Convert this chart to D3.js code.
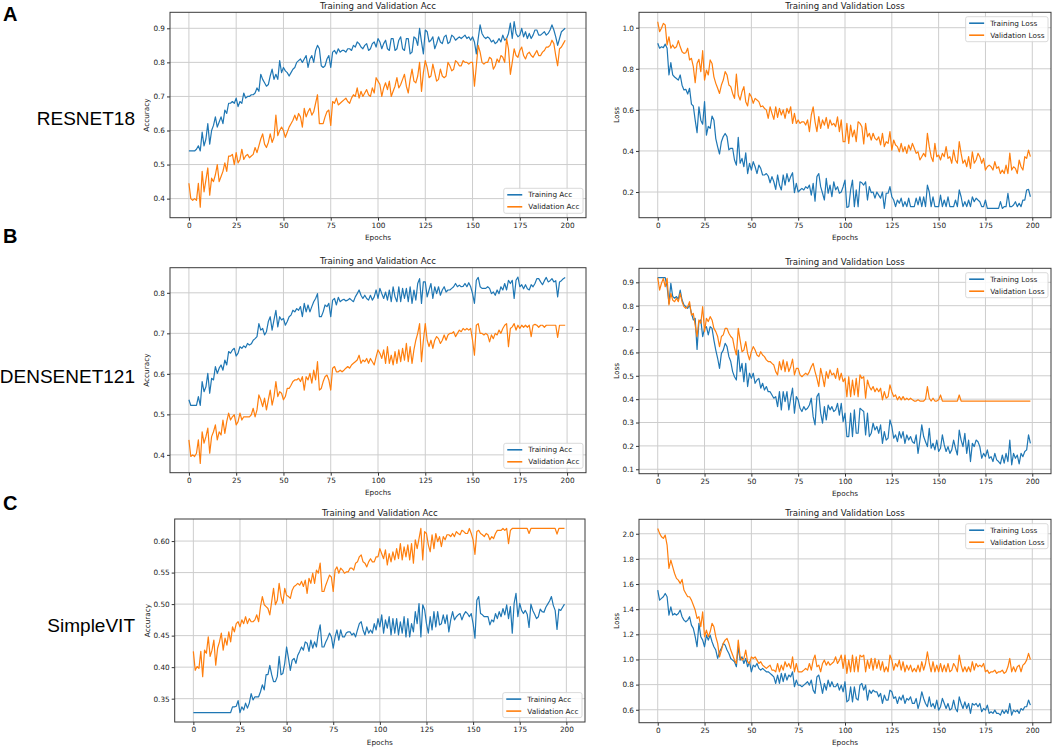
<!DOCTYPE html>
<html>
<head>
<meta charset="utf-8">
<script src="https://cdn.jsdelivr.net/npm/d3@7"></script>
<style>
  body { margin: 0; background: #fff; }
  text { font-family: "DejaVu Sans", sans-serif; fill: #222; }
</style>
</head>
<body>
<svg id="fig" width="1056" height="749"></svg>
<script>
// one value per epoch
var epochs = d3.range(0, 200);

var xTicks = [0, 25, 50, 75, 100, 125, 150, 175, 200];

// RESNET18
var resnetTrainAcc = [
  .54,.54,.54,.54,.545,.555,.54,.595,.555,.575,
  .62,.56,.60,.615,.64,.61,.625,.64,.62,.66,
  .65,.68,.68,.685,.68,.695,.67,.685,.68,.71,
  .695,.70,.70,.705,.705,.71,.725,.715,.765,.75,
  .74,.73,.735,.76,.78,.75,.765,.75,.805,.77,
  .785,.775,.77,.76,.77,.78,.785,.80,.805,.81,
  .80,.81,.82,.785,.81,.82,.80,.835,.85,.84,
  .79,.785,.79,.81,.82,.785,.83,.835,.825,.84,
  .83,.835,.835,.83,.84,.84,.835,.85,.845,.86,
  .855,.845,.84,.85,.855,.835,.84,.855,.86,.845,
  .87,.86,.84,.855,.865,.84,.835,.87,.87,.835,
  .84,.865,.875,.84,.835,.87,.87,.825,.83,.875,
  .87,.85,.90,.86,.825,.895,.89,.86,.865,.875,
  .84,.855,.875,.86,.855,.875,.88,.855,.86,.88,
  .875,.865,.87,.875,.87,.875,.88,.87,.875,.865,
  .875,.86,.825,.87,.91,.885,.875,.87,.875,.87,
  .86,.865,.855,.86,.87,.86,.88,.865,.87,.885,
  .915,.87,.92,.885,.875,.88,.90,.875,.89,.87,
  .885,.87,.88,.895,.895,.88,.88,.885,.89,.88,
  .885,.895,.91,.895,.875,.85,.87,.89,.895,.90];
var resnetValAcc = [
  .445,.40,.395,.40,.395,.445,.375,.48,.42,.455,
  .49,.41,.46,.45,.47,.50,.45,.465,.48,.505,
  .48,.525,.525,.53,.50,.535,.505,.515,.545,.515,
  .525,.53,.52,.525,.53,.55,.535,.555,.575,.59,
  .56,.55,.565,.59,.565,.58,.645,.585,.60,.61,
  .60,.58,.595,.61,.62,.63,.645,.63,.65,.64,
  .61,.665,.64,.655,.665,.645,.655,.68,.705,.62,
  .62,.62,.64,.655,.66,.615,.685,.68,.695,.675,
  .68,.685,.69,.695,.685,.68,.695,.705,.70,.725,
  .695,.715,.70,.71,.72,.705,.70,.725,.71,.755,
  .745,.735,.70,.725,.74,.72,.745,.70,.715,.73,
  .755,.725,.735,.75,.765,.73,.71,.75,.78,.745,
  .74,.76,.80,.715,.77,.805,.785,.755,.76,.795,
  .77,.745,.75,.78,.76,.755,.76,.80,.79,.775,
  .78,.805,.80,.79,.79,.805,.80,.80,.795,.80,
  .80,.73,.79,.85,.83,.80,.795,.80,.80,.815,
  .81,.78,.79,.81,.80,.82,.815,.80,.87,.84,
  .765,.80,.84,.82,.815,.835,.845,.82,.81,.825,
  .83,.82,.815,.825,.835,.82,.82,.83,.835,.845,
  .845,.85,.865,.855,.82,.79,.84,.845,.855,.865];
var resnetTrainLoss = [
  .924,.90,.907,.903,.92,.90,.77,.83,.77,.76,
  .753,.745,.77,.72,.697,.70,.677,.705,.628,.619,
  .55,.489,.615,.55,.53,.64,.477,.52,.51,.57,
  .55,.46,.42,.385,.445,.47,.485,.47,.405,.413,
  .413,.356,.331,.466,.34,.364,.323,.391,.29,.34,
  .307,.348,.323,.29,.331,.315,.283,.283,.29,.278,
  .245,.275,.25,.213,.283,.234,.21,.283,.234,.29,
  .25,.275,.294,.197,.242,.20,.21,.218,.21,.226,
  .218,.234,.185,.242,.155,.275,.29,.226,.194,.161,
  .267,.194,.234,.177,.25,.21,.226,.194,.20,.226,
  .258,.125,.129,.21,.258,.129,.21,.129,.25,.245,
  .234,.25,.161,.226,.197,.20,.17,.20,.185,.17,
  .20,.12,.194,.194,.226,.177,.161,.129,.161,.145,
  .17,.129,.153,.129,.17,.129,.129,.129,.17,.137,
  .177,.129,.177,.129,.234,.20,.129,.177,.129,.129,
  .129,.185,.129,.161,.129,.177,.129,.129,.129,.161,
  .129,.21,.177,.129,.153,.129,.161,.129,.177,.153,
  .17,.161,.153,.129,.129,.161,.12,.12,.12,.12,
  .12,.12,.12,.153,.12,.129,.129,.194,.129,.129,
  .137,.153,.129,.145,.129,.161,.161,.21,.213,.177];
var resnetValLoss = [
  1.029,.981,.997,1.021,1.013,.916,.956,.90,.916,.90,
  .907,.937,.907,.883,.875,.878,.90,.843,.851,.81,
  .732,.826,.846,.786,.888,.745,.794,.77,.843,.826,
  .761,.729,.705,.68,.721,.745,.786,.77,.721,.713,
  .68,.656,.774,.672,.648,.688,.713,.64,.619,.68,
  .664,.632,.656,.648,.64,.615,.619,.607,.60,.559,
  .615,.583,.554,.615,.563,.607,.575,.60,.559,.607,
  .583,.615,.534,.583,.534,.551,.534,.542,.542,.526,
  .551,.494,.575,.615,.542,.494,.567,.51,.551,.526,
  .563,.51,.551,.526,.534,.518,.566,.494,.551,.445,
  .445,.534,.437,.526,.469,.502,.445,.542,.534,.518,
  .434,.534,.469,.486,.453,.486,.461,.453,.469,.429,
  .486,.421,.445,.437,.494,.404,.453,.429,.421,.396,
  .437,.396,.421,.388,.429,.404,.437,.413,.388,.396,
  .356,.372,.388,.372,.486,.421,.372,.348,.437,.372,
  .38,.356,.388,.372,.421,.364,.372,.34,.404,.356,
  .34,.445,.388,.34,.356,.323,.372,.315,.396,.34,
  .356,.388,.372,.34,.364,.307,.323,.331,.323,.307,
  .348,.315,.323,.29,.307,.29,.331,.29,.39,.307,
  .323,.315,.29,.356,.323,.307,.372,.364,.404,.372];

// DENSENET121
var densenetTrainAcc = [
  .536,.522,.522,.522,.522,.544,.522,.581,.556,.568,
  .601,.552,.589,.585,.618,.601,.614,.622,.609,.634,
  .622,.655,.651,.659,.663,.644,.651,.667,.663,.669,
  .665,.675,.671,.674,.683,.687,.692,.724,.708,.712,
  .696,.704,.729,.741,.708,.733,.757,.716,.741,.733,
  .737,.72,.729,.741,.745,.757,.753,.761,.757,.766,
  .741,.774,.753,.77,.753,.766,.778,.786,.798,.741,
  .741,.753,.77,.766,.774,.741,.782,.786,.77,.789,
  .778,.782,.784,.78,.782,.786,.782,.778,.79,.798,
  .807,.794,.786,.794,.786,.782,.794,.782,.79,.807,
  .786,.811,.798,.786,.802,.782,.807,.778,.815,.79,
  .778,.815,.778,.811,.786,.811,.778,.815,.774,.807,
  .782,.823,.835,.774,.827,.827,.79,.807,.823,.786,
  .815,.798,.815,.794,.807,.815,.802,.807,.807,.811,
  .815,.823,.815,.819,.815,.816,.823,.815,.825,.815,
  .798,.774,.831,.838,.815,.811,.811,.811,.815,.811,
  .798,.802,.794,.807,.798,.815,.807,.823,.807,.831,
  .823,.831,.786,.831,.839,.815,.82,.81,.82,.81,
  .807,.82,.815,.823,.835,.835,.827,.82,.83,.838,
  .827,.83,.835,.827,.83,.79,.827,.83,.835,.838];
var densenetValAcc = [
  .437,.396,.40,.396,.404,.437,.379,.457,.429,.445,
  .466,.404,.445,.457,.474,.437,.457,.449,.486,.453,
  .482,.503,.486,.494,.499,.474,.482,.503,.486,.494,
  .494,.494,.494,.499,.515,.494,.511,.548,.536,.519,
  .54,.511,.536,.56,.523,.544,.581,.544,.556,.552,
  .536,.544,.564,.564,.572,.581,.585,.585,.589,.581,
  .593,.56,.593,.585,.601,.577,.609,.585,.63,.56,
  .564,.581,.593,.597,.585,.56,.614,.618,.605,.605,
  .609,.605,.609,.614,.618,.614,.622,.626,.63,.634,
  .646,.626,.634,.63,.638,.626,.638,.63,.622,.642,
  .659,.651,.638,.659,.626,.667,.626,.646,.622,.655,
  .626,.659,.63,.663,.634,.675,.63,.667,.626,.659,
  .683,.70,.724,.63,.683,.724,.683,.667,.683,.663,
  .683,.692,.687,.675,.683,.696,.683,.696,.70,.70,
  .704,.692,.70,.708,.704,.712,.708,.712,.708,.712,
  .683,.646,.72,.724,.70,.70,.696,.70,.696,.679,
  .696,.687,.70,.696,.708,.70,.712,.72,.724,.667,
  .712,.716,.724,.708,.72,.712,.72,.715,.72,.715,
  .72,.692,.72,.722,.72,.715,.72,.72,.715,.72,
  .72,.72,.72,.72,.72,.69,.72,.72,.72,.72];
var densenetTrainLoss = [
  .92,.92,.92,.92,.92,.881,.81,.896,.839,.832,
  .839,.828,.867,.824,.803,.796,.789,.803,.767,.739,
  .746,.613,.732,.739,.668,.703,.71,.675,.71,.703,
  .653,.61,.575,.532,.596,.61,.639,.625,.582,.561,
  .518,.496,.482,.61,.518,.553,.475,.553,.454,.511,
  .489,.511,.468,.482,.489,.447,.468,.439,.454,.432,
  .432,.418,.404,.411,.368,.432,.354,.432,.389,.432,
  .354,.404,.447,.34,.411,.397,.361,.347,.368,.354,
  .361,.375,.404,.325,.29,.411,.425,.34,.297,.368,
  .311,.375,.354,.368,.347,.354,.382,.332,.382,.304,
  .34,.24,.24,.34,.24,.354,.254,.254,.361,.354,
  .347,.247,.34,.24,.254,.297,.268,.283,.254,.29,
  .211,.261,.225,.233,.311,.283,.233,.247,.218,.261,
  .233,.261,.211,.247,.225,.24,.218,.211,.247,.168,
  .225,.29,.24,.218,.197,.275,.19,.211,.183,.225,
  .176,.19,.247,.204,.176,.197,.168,.183,.225,.19,
  .161,.268,.225,.197,.254,.168,.225,.133,.211,.197,
  .225,.218,.197,.147,.168,.154,.183,.147,.154,.133,
  .168,.14,.133,.123,.161,.126,.168,.133,.225,.119,
  .168,.147,.161,.123,.168,.154,.176,.183,.247,.211];
var densenetValLoss = [
  .92,.867,.896,.917,.881,.917,.803,.853,.824,.817,
  .832,.817,.853,.817,.796,.789,.796,.817,.76,.767,
  .717,.668,.739,.725,.796,.689,.746,.732,.753,.739,
  .703,.689,.668,.625,.668,.675,.703,.703,.682,.668,
  .66,.618,.589,.703,.653,.603,.61,.646,.596,.568,
  .603,.625,.61,.589,.582,.603,.589,.582,.568,.561,
  .561,.553,.546,.518,.504,.561,.525,.568,.518,.561,
  .518,.539,.571,.504,.532,.532,.504,.496,.504,.511,
  .504,.518,.539,.553,.518,.489,.454,.532,.496,.454,
  .518,.489,.525,.504,.511,.489,.532,.482,.511,.475,
  .489,.411,.496,.411,.482,.418,.489,.411,.504,.489,
  .496,.404,.482,.454,.439,.454,.432,.447,.432,.447,
  .397,.432,.404,.411,.461,.432,.411,.418,.397,.411,
  .397,.411,.397,.404,.397,.404,.397,.392,.392,.397,
  .392,.392,.392,.40,.454,.404,.392,.404,.392,.392,
  .397,.418,.392,.392,.392,.392,.392,.392,.392,.392,
  .392,.418,.392,.392,.392,.392,.392,.392,.392,.392,
  .392,.392,.392,.392,.392,.392,.392,.392,.392,.392,
  .392,.392,.392,.392,.392,.392,.392,.392,.392,.392,
  .392,.392,.392,.392,.392,.392,.392,.392,.392,.392];

// SimpleVIT
var vitTrainAcc = [
  .328,.328,.328,.328,.328,.328,.328,.328,.328,.328,
  .328,.328,.328,.328,.328,.328,.328,.328,.328,.328,
  .328,.337,.337,.338,.347,.328,.337,.332,.343,.335,
  .343,.358,.348,.353,.353,.353,.361,.372,.364,.388,
  .388,.403,.388,.377,.377,.385,.417,.388,.39,.406,
  .432,.414,.395,.411,.414,.406,.419,.425,.432,.427,
  .44,.438,.425,.443,.43,.44,.432,.454,.467,.432,
  .432,.44,.446,.454,.448,.43,.448,.459,.443,.459,
  .448,.448,.454,.456,.456,.451,.454,.448,.459,.469,
  .472,.459,.451,.464,.454,.459,.454,.469,.459,.477,
  .464,.483,.454,.475,.462,.48,.451,.477,.454,.477,
  .451,.472,.454,.48,.448,.477,.448,.469,.456,.488,
  .469,.501,.448,.499,.491,.469,.454,.48,.459,.488,
  .464,.488,.467,.469,.483,.469,.483,.456,.475,.488,
  .475,.48,.483,.485,.475,.483,.488,.485,.48,.485,
  .469,.446,.506,.512,.485,.483,.48,.48,.48,.467,
  .475,.472,.485,.477,.488,.48,.493,.483,.499,.477,
  .496,.454,.501,.517,.48,.501,.49,.485,.49,.484,
  .463,.50,.49,.484,.477,.48,.492,.488,.487,.495,
  .50,.505,.512,.498,.49,.46,.492,.49,.495,.50];
var vitValAcc = [
  .425,.395,.401,.398,.425,.385,.427,.422,.448,.417,
  .427,.443,.403,.43,.44,.454,.427,.446,.435,.456,
  .44,.464,.456,.469,.472,.464,.475,.469,.48,.469,
  .477,.472,.472,.475,.483,.472,.496,.512,.499,.496,
  .493,.483,.504,.525,.499,.506,.533,.512,.501,.525,
  .514,.512,.509,.522,.528,.53,.533,.53,.536,.528,
  .538,.517,.541,.533,.549,.533,.554,.549,.565,.52,
  .52,.53,.538,.546,.543,.52,.554,.559,.549,.557,
  .554,.549,.551,.551,.557,.557,.554,.565,.567,.575,
  .578,.567,.565,.559,.567,.572,.567,.567,.575,.575,
  .588,.58,.572,.586,.562,.58,.567,.583,.57,.588,
  .572,.596,.57,.591,.575,.594,.57,.596,.565,.602,
  .588,.604,.62,.57,.615,.612,.594,.583,.61,.588,
  .612,.599,.607,.591,.607,.602,.61,.61,.607,.612,
  .607,.615,.612,.61,.617,.615,.612,.612,.62,.612,
  .602,.579,.615,.617,.612,.61,.607,.612,.61,.602,
  .607,.604,.612,.617,.617,.617,.62,.617,.62,.596,
  .617,.62,.62,.62,.62,.62,.62,.62,.62,.62,
  .612,.62,.62,.62,.62,.62,.62,.62,.62,.62,
  .62,.62,.62,.62,.62,.611,.62,.62,.62,.62];
var vitTrainLoss = [
  1.552,1.472,1.486,1.499,1.525,1.499,1.353,1.419,1.353,1.366,
  1.353,1.366,1.393,1.34,1.313,1.30,1.313,1.34,1.273,1.247,
  1.181,1.101,1.287,1.181,1.154,1.101,1.194,1.154,1.194,1.141,
  1.101,1.075,1.008,1.061,1.088,1.128,1.114,1.075,1.048,1.008,
  .995,.982,.942,1.101,.995,1.021,.968,1.008,.942,.982,
  .902,.955,.942,.968,.929,.915,.929,.915,.902,.902,
  .889,.876,.862,.809,.876,.809,.889,.823,.889,.836,
  .876,.862,.902,.783,.836,.796,.796,.783,.796,.809,
  .823,.796,.836,.756,.73,.862,.876,.809,.73,.809,
  .756,.836,.783,.823,.783,.783,.809,.756,.796,.743,
  .823,.663,.677,.783,.663,.783,.69,.677,.796,.809,
  .756,.796,.677,.756,.73,.756,.743,.743,.703,.73,
  .65,.717,.677,.677,.756,.743,.69,.703,.65,.703,
  .677,.717,.65,.69,.677,.703,.65,.65,.69,.61,
  .663,.743,.69,.65,.624,.703,.624,.65,.61,.677,
  .597,.624,.69,.65,.61,.65,.597,.61,.677,.61,
  .584,.703,.65,.61,.663,.61,.65,.571,.65,.637,
  .65,.624,.65,.584,.61,.597,.637,.571,.584,.571,
  .597,.571,.571,.557,.597,.571,.597,.571,.65,.557,
  .597,.584,.597,.571,.61,.597,.624,.624,.677,.637];
var vitValLoss = [
  2.042,2.003,1.976,1.963,1.989,1.91,1.724,1.79,1.737,1.684,
  1.645,1.631,1.605,1.637,1.552,1.525,1.499,1.499,1.472,1.433,
  1.393,1.326,1.34,1.26,1.379,1.181,1.234,1.181,1.22,1.287,
  1.26,1.181,1.128,1.021,1.075,1.128,1.154,1.167,1.128,1.075,
  1.035,.995,.968,1.154,1.021,.995,1.008,1.075,.982,.968,
  1.021,1.008,1.021,.995,.968,.982,.955,.942,.929,.942,
  .955,.915,.915,.902,.968,.902,.955,.915,.982,.942,
  .968,.929,1.021,.902,.968,.902,.902,.902,.915,.929,
  .915,.968,.915,.995,1.035,.942,.955,.902,.968,.995,
  .955,.982,.955,.968,.982,1.021,.968,.995,1.035,.929,
  1.035,.889,.995,.902,1.035,.902,1.021,.902,1.035,1.021,
  1.035,.902,.995,.929,1.008,.915,1.008,.929,.995,.915,
  .982,.902,.942,.902,1.035,.995,.915,.968,.942,.995,
  .915,.982,.902,.955,.915,.955,.902,.929,.902,.955,
  .902,.982,.915,.968,1.061,.968,.902,.982,.902,.955,
  .902,.968,.902,.955,.902,.968,.902,.915,.968,.942,
  .902,1.035,.955,.902,.942,.902,.942,.902,.982,.915,
  .968,.942,.955,.942,.968,.902,.915,.889,.902,.902,
  .915,.889,.902,.902,.915,.889,.902,.942,1.008,.902,
  .942,.902,.942,.955,.902,.955,.968,.995,1.048,1.0];

var accNames = ['Training Acc', 'Validation Acc'];
var lossNames = ['Training Loss', 'Validation Loss'];
var colors = ['#1f77b4', '#ff7f0e'];

// row labels on the left
var rowLabels = [
  {letter: 'A', letterY: 21, model: 'RESNET18', modelY: 125},
  {letter: 'B', letterY: 243, model: 'DENSENET121', modelY: 383},
  {letter: 'C', letterY: 510, model: 'SimpleVIT', modelY: 632}
];

// panel frames: left, right, top, bottom
var panels = [
  {x0: 170, x1: 586, y0: 12.3, y1: 217.7, yDomain: [0.344, 0.947], yTicks: [0.4, 0.5, 0.6, 0.7, 0.8, 0.9], fmt: '.1f',
   title: 'Training and Validation Acc', ylabel: 'Accuracy', ylabelX: 146, data: [resnetTrainAcc, resnetValAcc], names: accNames, legend: 'lr'},
  {x0: 639, x1: 1051, y0: 12.3, y1: 217.7, yDomain: [0.075, 1.075], yTicks: [0.2, 0.4, 0.6, 0.8, 1.0], fmt: '.1f',
   title: 'Training and Validation Loss', ylabel: 'Loss', ylabelX: 616, data: [resnetTrainLoss, resnetValLoss], names: lossNames, legend: 'ur'},
  {x0: 170, x1: 586, y0: 267.7, y1: 472.7, yDomain: [0.356, 0.862], yTicks: [0.4, 0.5, 0.6, 0.7, 0.8], fmt: '.1f',
   title: 'Training and Validation Acc', ylabel: 'Accuracy', ylabelX: 146, data: [densenetTrainAcc, densenetValAcc], names: accNames, legend: 'lr'},
  {x0: 639, x1: 1051, y0: 268.3, y1: 473.7, yDomain: [0.081, 0.96], yTicks: [0.1, 0.2, 0.3, 0.4, 0.5, 0.6, 0.7, 0.8, 0.9], fmt: '.1f',
   title: 'Training and Validation Loss', ylabel: 'Loss', ylabelX: 616, data: [densenetTrainLoss, densenetValLoss], names: lossNames, legend: 'ur'},
  {x0: 174.7, x1: 585, y0: 519, y1: 722, yDomain: [0.313, 0.635], yTicks: [0.35, 0.40, 0.45, 0.50, 0.55, 0.60], fmt: '.2f',
   title: 'Training and Validation Acc', ylabel: 'Accuracy', ylabelX: 147, data: [vitTrainAcc, vitValAcc], names: accNames, legend: 'lr'},
  {x0: 639, x1: 1051, y0: 519.3, y1: 722.7, yDomain: [0.497, 2.115], yTicks: [0.6, 0.8, 1.0, 1.2, 1.4, 1.6, 1.8, 2.0], fmt: '.1f',
   title: 'Training and Validation Loss', ylabel: 'Loss', ylabelX: 616, data: [vitTrainLoss, vitValLoss], names: lossNames, legend: 'ur'}
];

var svg = d3.select('#fig');
svg.append('rect').attr('width', 1056).attr('height', 749).attr('fill', '#fff');

rowLabels.forEach(function(r) {
  svg.append('text').attr('x', 3).attr('y', r.letterY)
    .style('font-family', '"Liberation Sans", Arial, sans-serif')
    .style('font-weight', 'bold').style('font-size', '20px').style('fill', '#000')
    .text(r.letter);
  svg.append('text').attr('x', 135).attr('y', r.modelY).attr('text-anchor', 'end')
    .style('font-family', '"Liberation Sans", Arial, sans-serif')
    .style('font-size', '19px').style('fill', '#000')
    .text(r.model);
});

panels.forEach(drawPanel);

function drawPanel(p) {
  var x = d3.scaleLinear().domain([-10, 210]).range([p.x0, p.x1]);
  var y = d3.scaleLinear().domain(p.yDomain).range([p.y1, p.y0]);
  var g = svg.append('g');

  // grid
  g.append('g').selectAll('line').data(xTicks).enter().append('line')
    .attr('x1', d => x(d)).attr('x2', d => x(d)).attr('y1', p.y0).attr('y2', p.y1)
    .attr('stroke', '#cdcdcd').attr('stroke-width', 1);
  g.append('g').selectAll('line').data(p.yTicks).enter().append('line')
    .attr('x1', p.x0).attr('x2', p.x1).attr('y1', d => y(d)).attr('y2', d => y(d))
    .attr('stroke', '#cdcdcd').attr('stroke-width', 1);

  // series
  var line = d3.line().x((d, i) => x(epochs[i])).y(d => y(d));
  p.data.forEach(function(s, k) {
    g.append('path').datum(s).attr('d', line)
      .attr('fill', 'none').attr('stroke', colors[k]).attr('stroke-width', 1.2)
      .attr('stroke-linejoin', 'round');
  });

  // axes
  var xa = g.append('g').attr('transform', 'translate(0,' + p.y1 + ')')
    .call(d3.axisBottom(x).tickValues(xTicks).tickSize(3).tickPadding(2));
  var ya = g.append('g').attr('transform', 'translate(' + p.x0 + ',0)')
    .call(d3.axisLeft(y).tickValues(p.yTicks).tickFormat(d3.format(p.fmt)).tickSize(3).tickPadding(2));
  [xa, ya].forEach(function(a) {
    a.select('.domain').remove();
    a.selectAll('line').attr('stroke', '#333');
    a.selectAll('text').style('font-family', '"DejaVu Sans", sans-serif').style('font-size', '7.3px').attr('fill', '#222');
  });

  // frame
  g.append('rect').attr('x', p.x0).attr('y', p.y0)
    .attr('width', p.x1 - p.x0).attr('height', p.y1 - p.y0)
    .attr('fill', 'none').attr('stroke', '#3a3a3a').attr('stroke-width', 1);

  // labels
  g.append('text').attr('x', (p.x0 + p.x1) / 2).attr('y', p.y0 - 3.5).attr('text-anchor', 'middle')
    .style('font-size', '8.6px').text(p.title);
  g.append('text').attr('x', (p.x0 + p.x1) / 2).attr('y', p.y1 + 22.5).attr('text-anchor', 'middle')
    .style('font-size', '7.3px').text('Epochs');
  g.append('text').attr('transform', 'translate(' + p.ylabelX + ',' + ((p.y0 + p.y1) / 2) + ') rotate(-90)')
    .attr('text-anchor', 'middle').attr('dy', '0.35em')
    .style('font-size', '7.3px').text(p.ylabel);

  drawLegend(g, p);
}

function drawLegend(g, p) {
  var fs = 7.3, rowH = 12, pad = 3.5, hl = 15, gap = 6;
  var lg = g.append('g');
  var texts = p.names.map(function(n) {
    return lg.append('text').style('font-size', fs + 'px').text(n);
  });
  var tw = d3.max(texts, t => t.node().getComputedTextLength());
  var w = pad + hl + gap + tw + pad;
  var h = rowH * 2 + 1;
  var bx = p.x1 - 3 - w;
  var by = p.legend === 'ur' ? p.y0 + 4.4 : p.y1 - 4.4 - h;
  lg.insert('rect', ':first-child').attr('x', bx).attr('y', by).attr('width', w).attr('height', h)
    .attr('rx', 2).attr('fill', '#fff').attr('fill-opacity', 0.85)
    .attr('stroke', '#d0d0d0').attr('stroke-width', 0.8);
  texts.forEach(function(t, i) {
    var cy = by + 6.5 + i * rowH;
    t.attr('x', bx + pad + hl + gap).attr('y', cy).attr('dy', '0.35em');
    lg.append('line').attr('x1', bx + pad).attr('x2', bx + pad + hl)
      .attr('y1', cy).attr('y2', cy).attr('stroke', colors[i]).attr('stroke-width', 1.6);
  });
}
</script>
</body>
</html>
